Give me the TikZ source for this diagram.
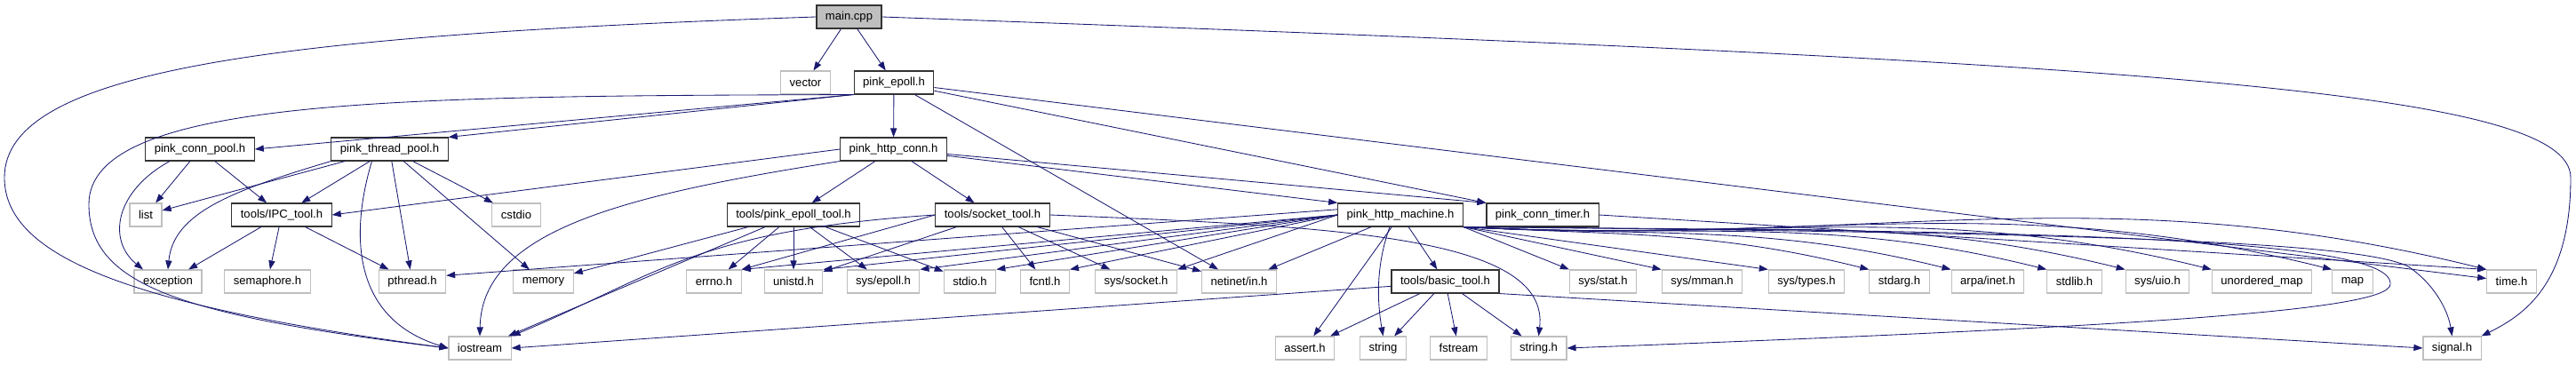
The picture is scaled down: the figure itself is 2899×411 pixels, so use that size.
\documentclass[tikz,border=0pt]{standalone}
\usepackage{fontspec}
\setmainfont{Liberation Sans}
\usetikzlibrary{arrows.meta}
\definecolor{depblue}{RGB}{25,25,112}
\definecolor{sysgray}{RGB}{191,191,191}
\tikzset{
  file/.style={draw=black!80,line width=0.8pt,fill=white,minimum height=6.5mm,inner xsep=2.5mm,inner ysep=0pt,font=\fontsize{9.3}{11}\selectfont},
  root/.style={file,fill=sysgray},
  hdr/.style={file},
  ext/.style={file,draw=sysgray},
  dep/.style={-{Triangle[length=2.5mm,width=1.8mm]},draw=depblue,line width=0.6pt},
  fan/.style={dep,out=-3,in=166}
}
\begin{document}
\begin{tikzpicture}[x=0.25mm,y=0.25mm]
\useasboundingbox (0,0) rectangle (2899,-411);
% files, row by row
\node[root] (main) at (955.5,-19) {main.cpp};
\node[ext] (vector) at (906.5,-93) {vector};
\node[hdr] (epoll) at (1006,-93) {pink\_epoll.h};
\node[hdr] (cpool) at (225,-168) {pink\_conn\_pool.h};
\node[hdr] (tpool) at (438.5,-168) {pink\_thread\_pool.h};
\node[hdr] (hconn) at (1005.5,-168) {pink\_http\_conn.h};
\node[ext] (list) at (164,-242) {list};
\node[hdr] (ipc) at (317,-242) {tools/IPC\_tool.h};
\node[ext] (cstdio) at (581,-242) {cstdio};
\node[hdr] (etool) at (893,-242) {tools/pink\_epoll\_tool.h};
\node[hdr] (stool) at (1117,-242) {tools/socket\_tool.h};
\node[hdr] (machine) at (1576,-242) {pink\_http\_machine.h};
\node[hdr] (timer) at (1736,-242) {pink\_conn\_timer.h};
\node[ext] (exception) at (189,-317) {exception};
\node[ext] (sem) at (301,-317) {semaphore.h};
\node[ext] (pthread) at (464,-317) {pthread.h};
\node[ext] (memory) at (611.5,-317) {memory};
\node[ext] (errno) at (803.5,-317) {errno.h};
\node[ext] (unistd) at (893,-317) {unistd.h};
\node[ext] (sysepoll) at (994,-317) {sys/epoll.h};
\node[ext] (stdio) at (1091.5,-317) {stdio.h};
\node[ext] (fcntl) at (1176,-317) {fcntl.h};
\node[ext] (syssock) at (1278.5,-317) {sys/socket.h};
\node[ext] (netin) at (1394.5,-317) {netinet/in.h};
\node[hdr] (btool) at (1626.5,-317) {tools/basic\_tool.h};
\node[ext] (sysstat) at (1804,-317) {sys/stat.h};
\node[ext] (sysmman) at (1915.5,-317) {sys/mman.h};
\node[ext] (systypes) at (2033,-317) {sys/types.h};
\node[ext] (stdarg) at (2137.5,-317) {stdarg.h};
\node[ext] (arpa) at (2237,-317) {arpa/inet.h};
\node[ext] (stdlib) at (2334.5,-317) {stdlib.h};
\node[ext] (sysuio) at (2428,-317) {sys/uio.h};
\node[ext] (umap) at (2545.5,-317) {unordered\_map};
\node[ext] (map) at (2647.5,-317) {map};
\node[ext] (timeh) at (2826.5,-317) {time.h};
\node[ext] (iostream) at (540,-392) {iostream};
\node[ext] (assert) at (1468.5,-392) {assert.h};
\node[ext] (string) at (1556.5,-392) {string};
\node[ext] (fstream) at (1641.5,-392) {fstream};
\node[ext] (strh) at (1731.5,-392) {string.h};
\node[ext] (signal) at (2759.5,-392) {signal.h};
% main.cpp
\draw[dep] (main) -- (vector);
\draw[dep] (main) -- (epoll);
\draw[dep] (main.west) .. controls (300,-40) and (5,-80) .. (5,-200) .. controls (5,-290) and (150,-345) .. (iostream.west);
\draw[dep] (main.east) .. controls (2400,-70) and (2893,-100) .. (2893,-200) .. controls (2893,-320) and (2840,-355) .. (signal.north east);
% pink_epoll.h
\draw[dep] (epoll.south west) -- (cpool.east);
\draw[dep] (epoll.south west) -- (tpool.north east);
\draw[dep] (epoll) -- (hconn);
\draw[dep] (epoll) -- (netin);
\draw[dep] (epoll) -- (timer.north west);
\draw[dep] (epoll) -- (timeh);
\draw[dep] (epoll.south west) .. controls (450,-108) and (100,-110) .. (100,-230) .. controls (100,-320) and (200,-355) .. (iostream.west);
% pools
\draw[dep] (cpool) -- (list);
\draw[dep] (cpool) -- (ipc);
\draw[dep] ([xshift=-8.5mm]cpool.south) .. controls (130,-215) and (120,-270) .. ([xshift=-7mm]exception.north);
\draw[dep] (tpool) -- (list);
\draw[dep] (tpool) -- (ipc);
\draw[dep] (tpool) -- (cstdio);
\draw[dep] (tpool) -- (pthread);
\draw[dep] (tpool) -- (memory);
\draw[dep] (tpool.south west) .. controls (260,-215) and (195,-240) .. (exception.north);
\draw[dep] ([xshift=-5mm]tpool.south) .. controls (392,-270) and (400,-360) .. (iostream.west);
% pink_http_conn.h
\draw[dep] (hconn.west) -- (ipc.east);
\draw[dep] (hconn) -- (etool);
\draw[dep] (hconn) -- (stool);
\draw[dep] (hconn) -- (machine.north west);
\draw[dep] (hconn) -- (timer.north west);
\draw[dep] (hconn.south west) .. controls (700,-220) and (542,-260) .. (iostream.north);
% tools
\draw[dep] (ipc) -- (exception);
\draw[dep] (ipc) -- (sem);
\draw[dep] (ipc) -- (pthread);
\draw[dep] (etool) -- (memory);
\draw[dep] (etool) -- (iostream);
\draw[dep] (etool) -- (errno);
\draw[dep] (etool) -- (unistd);
\draw[dep] (etool) -- (sysepoll);
\draw[dep] (etool) -- (stdio);
\draw[dep] (stool.west) -- (errno.north east);
\draw[dep] (stool) -- (unistd);
\draw[dep] (stool) -- (fcntl);
\draw[dep] (stool) -- (syssock);
\draw[dep] (stool) -- (netin);
\draw[dep] (stool.west) .. controls (780,-260) and (740,-310) .. (iostream.north east);
\draw[dep] (stool.east) .. controls (1500,-255) and (1745,-265) .. (strh.north);
% pink_http_machine.h
\draw[dep] (machine.175) -- (pthread.10);
\draw[dep] (machine.west) -- (errno.north east);
\draw[dep] (machine.west) -- (unistd.north east);
\draw[dep] (machine.west) -- (sysepoll.north east);
\draw[dep] (machine.west) -- (stdio.north east);
\draw[dep] (machine.west) -- (fcntl.north east);
\draw[dep] (machine.west) -- (syssock.north east);
\draw[dep] (machine) -- (netin);
\draw[dep] (machine) -- (assert);
\draw[dep] ([xshift=-3mm]machine.south) .. controls (1548,-300) and (1550,-340) .. (string.north);
\draw[dep] (machine) -- (btool);
\draw[dep] (machine.south east) -- (sysstat.north west);
\draw[dep] (machine.south east) -- (sysmman.north west);
\draw[dep] (machine.south east) -- (systypes.north west);
\draw[fan] (machine.south east) to (stdarg.north west);
\draw[fan] (machine.south east) to (arpa.north west);
\draw[fan] (machine.south east) to (stdlib.north west);
\draw[fan] (machine.south east) to (sysuio.north west);
\draw[fan] (machine.south east) to (umap.north west);
\draw[fan] (machine.south east) to (map.north west);
\draw[fan] (machine.south east) to (timeh.north west);
\draw[dep] (machine.south east) .. controls (2200,-260) and (2695,-262) .. (2690,-320) .. controls (2690,-350) and (2400,-368) .. (strh.east);
\draw[dep] (machine.south east) .. controls (2300,-262) and (2650,-270) .. (2710,-300) .. controls (2740,-320) and (2755,-350) .. (signal.north);
% pink_conn_timer.h
\draw[dep] (timer.east) -- (timeh.north west);
% tools/basic_tool.h
\draw[dep] (btool.185) -- (iostream.east);
\draw[dep] (btool) -- (assert);
\draw[dep] (btool) -- (string);
\draw[dep] (btool) -- (fstream);
\draw[dep] (btool) -- (strh);
\draw[dep] (btool.south east) -- (signal.west);
\end{tikzpicture}
\end{document}
